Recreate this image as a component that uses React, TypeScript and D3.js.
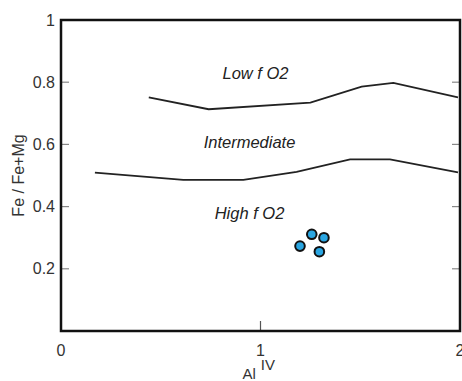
import React from 'react';
import * as d3 from 'd3';

// boundary curves
const lowBoundary: [number, number][] = [
  [0.44, 0.751], [0.74, 0.713], [1.25, 0.734], [1.507, 0.786], [1.666, 0.798], [1.99, 0.751],
];
const highBoundary: [number, number][] = [
  [0.17, 0.509], [0.613, 0.486], [0.914, 0.486], [1.181, 0.512], [1.449, 0.552], [1.649, 0.552], [1.99, 0.51],
];
const samples: [number, number][] = [
  [1.198, 0.273], [1.257, 0.311], [1.318, 0.3], [1.295, 0.255],
];
const xTicks = [0, 1, 2];
const yTicks = [0.2, 0.4, 0.6, 0.8, 1];
const fields = [
  { text: 'Low f O2', x: 0.975, y: 0.83 },
  { text: 'Intermediate', x: 0.945, y: 0.607 },
  { text: 'High f O2', x: 0.945, y: 0.38 },
];

const W = 462;
const H = 381;
const margin = { top: 20, right: 2, bottom: 50, left: 61 };

const App = () => {
  const x = d3.scaleLinear().domain([0, 2]).range([margin.left, W - margin.right]);
  const y = d3.scaleLinear().domain([0, 1]).range([H - margin.bottom, margin.top]);
  const line = d3.line<[number, number]>().x(d => x(d[0])).y(d => y(d[1]));
  const font = 'Arial, "Liberation Sans", sans-serif';
  const x0 = x(0), x1 = x(2), y0 = y(0), y1 = y(1);

  return (
    <svg width={W} height={H} style={{ position: 'absolute', left: 0, top: 0 }} fontFamily={font}>
      <rect width={W} height={H} fill="#fff" />

      {/* inward ticks */}
      {yTicks.filter(t => t < 1).map(t => (
        <g key={'yt' + t} stroke="#888" strokeWidth={1.2}>
          <line x1={x0} x2={x0 + 8} y1={y(t)} y2={y(t)} />
          <line x1={x1 - 8} x2={x1} y1={y(t)} y2={y(t)} />
        </g>
      ))}
      <line x1={x(1)} x2={x(1)} y1={y0} y2={y0 - 10} stroke="#555" strokeWidth={1.2} />

      {/* frame */}
      <rect x={x0} y={y1} width={x1 - x0} height={y0 - y1} fill="none" stroke="#111" strokeWidth={2.5} />

      {/* tick labels */}
      {yTicks.map(t => (
        <text key={'yl' + t} x={x0 - 6} y={y(t)} dy="0.35em" textAnchor="end" fontSize={16} fill="#333">
          {d3.format('~g')(t)}
        </text>
      ))}
      {xTicks.map(t => (
        <text key={'xl' + t} x={x(t)} y={y0 + 25} textAnchor="middle" fontSize={16} fill="#333">
          {t}
        </text>
      ))}

      {/* axis titles */}
      <text transform={`translate(24,${(y0 + y1) / 2}) rotate(-90)`} textAnchor="middle" fontSize={16} fill="#333">
        Fe / Fe+Mg
      </text>
      <text x={x(1) - 18} y={H - 2} fontSize={15} fill="#333">
        Al<tspan dx={5} dy={-9} fontSize={15}>IV</tspan>
      </text>

      {/* boundaries */}
      <path d={line(lowBoundary) ?? ''} fill="none" stroke="#222" strokeWidth={1.8} />
      <path d={line(highBoundary) ?? ''} fill="none" stroke="#222" strokeWidth={1.8} />

      {fields.map(f => (
        <text key={f.text} x={x(f.x)} y={y(f.y)} dy="0.35em" textAnchor="middle" fontSize={16.5} fontStyle="italic" fill="#222">
          {f.text}
        </text>
      ))}

      {samples.map((d, i) => (
        <circle key={i} cx={x(d[0])} cy={y(d[1])} r={4.8} fill="#2aa6e2" stroke="#111" strokeWidth={2} />
      ))}
    </svg>
  );
};

export default App;
